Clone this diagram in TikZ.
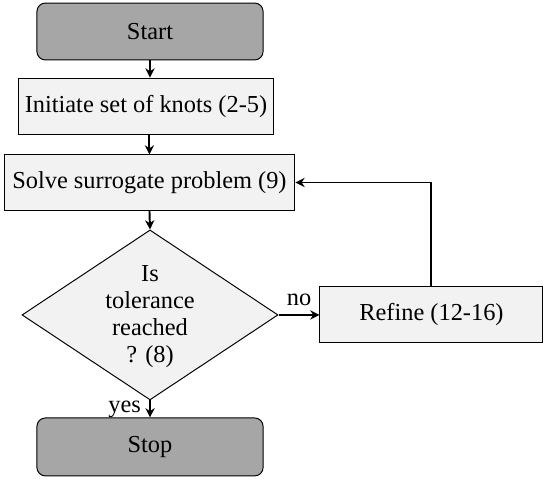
\documentclass[tikz,border=0pt]{standalone}
\usepackage{fontspec}
\setmainfont{Liberation Serif}
\usetikzlibrary{arrows.meta, shapes.geometric}
\definecolor{BoxGray}{gray}{0.95}
\definecolor{TermGray}{gray}{0.65}

\begin{document}
\begin{tikzpicture}[font=\rmfamily,
    flowbox/.style={draw=black, fill=BoxGray, minimum height=0.82cm, inner sep=0pt},
    termbox/.style={draw=black, fill=TermGray, rounded corners=3.5pt, minimum width=3.26cm,
                    minimum height=0.82cm, inner sep=0pt},
    decision/.style={diamond, draw=black, fill=BoxGray, aspect=1.5, inner sep=0pt,
                     minimum width=3.69cm, minimum height=2.45cm, font=\fontsize{10}{11}\selectfont},
    flowarrow/.style={-{Stealth[length=3.8pt, width=3.8pt]}, thick}]

\useasboundingbox (0,0) rectangle (7.84,-6.93);

% --- inicio ---
\node[termbox] (start) at (2.162,-0.454) {Start};

% --- pasos ---
\node[flowbox, minimum width=3.675cm] (init) at (2.104,-1.535) {Initiate set of knots (2-5)};
\node[flowbox, minimum width=4.193cm, minimum height=0.793cm] (solve) at (2.154,-2.630)
    {Solve surrogate problem (9)};

% --- decision ---
\node[decision] (dec) at (2.162,-4.539)
    {\smash{\raisebox{-3.2pt}{\begin{tabular}{@{}c@{}}Is\\tolerance\\reached\\? (8)\end{tabular}}}};

\node[flowbox, minimum width=3.213cm] (refine) at (6.218,-4.532) {Refine (12-16)};

% --- fin ---
\node[termbox, minimum height=0.836cm] (stop) at (2.162,-6.441) {Stop};

% --- flechas ---
\draw[flowarrow] (start.south) -- (start.south |- init.north);
\draw[flowarrow] (solve.north |- init.south) -- (solve.north);
\draw[flowarrow] (solve.south) -- (dec.north);
\draw[flowarrow] (dec.east) -- (dec.east -| refine.west) node[midway, above] (no) {no};
\draw[flowarrow] (dec.south) -- (stop.north) node[midway, left] (yes) {yes};
\draw[flowarrow] (refine.north) |- (solve.east);

\end{tikzpicture}
\end{document}
